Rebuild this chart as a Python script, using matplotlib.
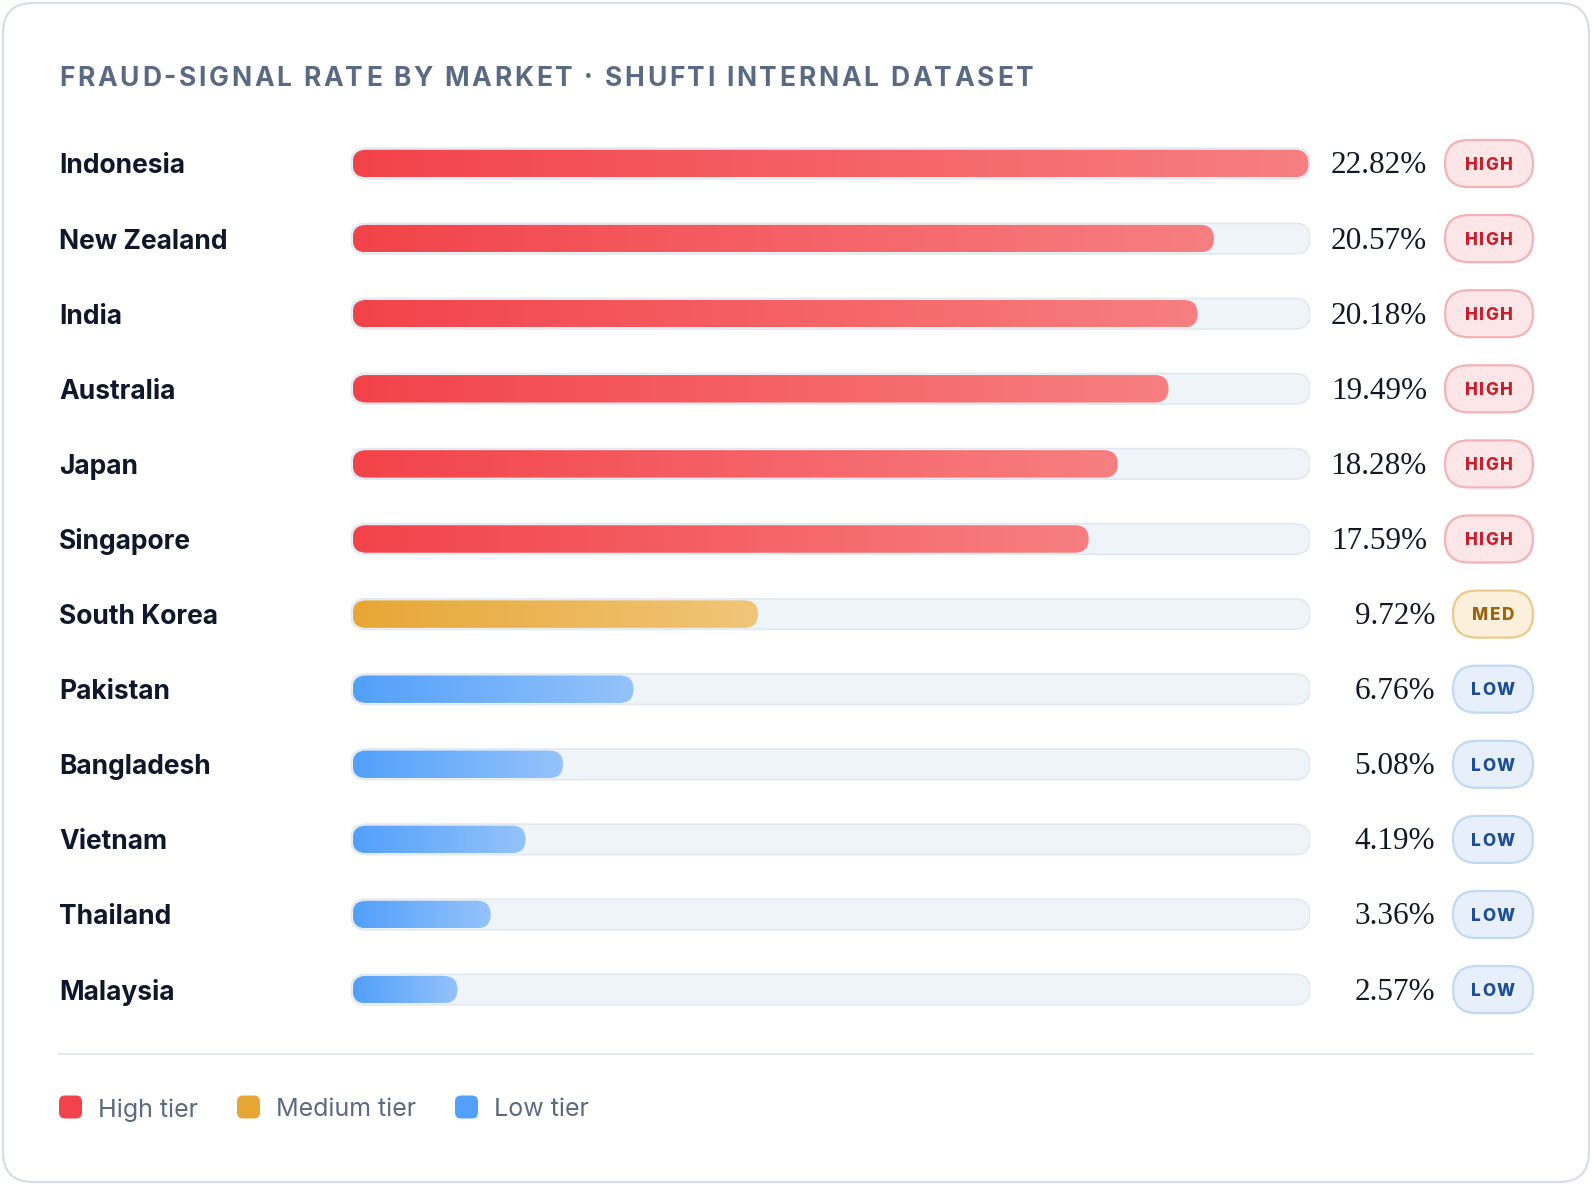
import matplotlib
matplotlib.use('Agg')
import matplotlib.pyplot as plt
import numpy as np
from matplotlib.patches import FancyBboxPatch
from matplotlib.colors import LinearSegmentedColormap

countries = ['Indonesia', 'New Zealand', 'India', 'Australia', 'Japan', 'Singapore',
             'South Korea', 'Pakistan', 'Bangladesh', 'Vietnam', 'Thailand', 'Malaysia']
rates = [22.82, 20.57, 20.18, 19.49, 18.28, 17.59, 9.72, 6.76, 5.08, 4.19, 3.36, 2.57]
tiers = ['HIGH'] * 6 + ['MED'] + ['LOW'] * 5
legend_labels = ['High tier', 'Medium tier', 'Low tier']
title = 'FRAUD-SIGNAL RATE BY MARKET \u00b7 SHUFTI INTERNAL DATASET'

# tier styling: gradient start, gradient end, pill fill, pill edge, pill text
tier_style = {
    'HIGH': ('#f2434a', '#f77f81', '#fde6e8', '#f3b3b6', '#c81f2b'),
    'MED': ('#e7a736', '#f0c679', '#fcf0dd', '#ecca8c', '#9a6413'),
    'LOW': ('#52a0fa', '#95c3fb', '#e7effb', '#c2d8f3', '#1d4d96'),
}
legend_tiers = ['HIGH', 'MED', 'LOW']

W, H = 1592, 1185
fig = plt.figure(figsize=(W / 100, H / 100), dpi=100)
fig.patch.set_facecolor('white')

bg = fig.add_axes([0, 0, 1, 1])
bg.set_xlim(0, W)
bg.set_ylim(H, 0)
bg.axis('off')

# card
bg.add_patch(FancyBboxPatch((3, 3), W - 6, H - 6, boxstyle='round,pad=0,rounding_size=30',
                            fc='white', ec='#d6deea', lw=1.6))

# bar axes
track_l, track_r = 351, 1310
row0, step = 163.5, 75.1
n = len(countries)
ax_top = row0 - step / 2
ax_h = n * step
ax = fig.add_axes([track_l / W, 1 - (ax_top + ax_h) / H, (track_r - track_l) / W, ax_h / H])
ax.axis('off')
xmax = max(rates)
ux = xmax / (track_r - track_l)
uy = n / ax_h
track_px = 30.5
th = track_px * uy
bh = (track_px - 3) * uy
inset = 1.5 * ux

for i, (v, t) in enumerate(zip(rates, tiers)):
    c0, c1, _, _, _ = tier_style[t]
    ax.add_patch(FancyBboxPatch((0, i - th / 2), xmax, th,
                                boxstyle=f'round,pad=0,rounding_size={track_px / 2 * ux}',
                                mutation_aspect=uy / ux, fc='#eff4f9', ec='#e1e8f1', lw=1.2, zorder=1))
    bar = FancyBboxPatch((inset, i - bh / 2), v - 2 * inset, bh,
                         boxstyle=f'round,pad=0,rounding_size={(track_px - 3) / 2 * ux}',
                         mutation_aspect=uy / ux, fc='none', lw=0, zorder=2)
    ax.add_patch(bar)
    cm = LinearSegmentedColormap.from_list(t, [c0, c1])
    im = ax.imshow(np.linspace(0, 1, 256).reshape(1, -1), cmap=cm, aspect='auto',
                   extent=[inset, v - inset, i + bh / 2, i - bh / 2],
                   interpolation='bilinear', zorder=3)
    im.set_clip_path(bar)
ax.set_xlim(0, xmax)
ax.set_ylim(n - 0.5, -0.5)

renderer = fig.canvas.get_renderer()


def advance(ch, **kw):
    t1 = bg.text(0, 0, 'H' + ch + 'H', **kw)
    t2 = bg.text(0, 0, 'HH', **kw)
    w = t1.get_window_extent(renderer).width - t2.get_window_extent(renderer).width
    t1.remove()
    t2.remove()
    return w


def spaced(x, y, s, spacing, ha='left', **kw):
    widths = [advance(ch, **kw) for ch in s]
    total = sum(widths) + spacing * (len(s) - 1)
    if ha == 'center':
        x -= total / 2
    for ch, w in zip(s, widths):
        if ch != ' ':
            bg.text(x, y, ch, ha='left', va='baseline', **kw)
        x += w + spacing


sans = ['Inter', 'DejaVu Sans']
serif = ['Liberation Serif', 'DejaVu Serif']

spaced(59, 75 + 10.5, title, 2.7, fontsize=19, fontweight='bold', color='#5a6a82', family=sans)


def row_y(i):
    disp = ax.transData.transform((0, i))
    return bg.transData.inverted().transform(disp)[1]


pill_r = 1533
for i, (name, v, t) in enumerate(zip(countries, rates, tiers)):
    y = row_y(i)
    _, _, pf, pe, pt = tier_style[t]
    bg.text(59, y + 10, name, ha='left', va='baseline', fontsize=19, fontweight='bold',
            color='#0f172a', family=sans)
    pw = 88 if t == 'HIGH' else 80
    pl = pill_r - pw
    bg.add_patch(FancyBboxPatch((pl, y - 23.5), pw, 47, boxstyle='round,pad=0,rounding_size=23.5',
                                fc=pf, ec=pe, lw=1.6))
    spaced(pl + pw / 2, y + 6.3, t, 1.7, ha='center', fontsize=12.3, fontweight='heavy',
           color=pt, family=sans)
    bg.text(pl - 18, y + 10, f'{v:.2f}%', ha='right', va='baseline', fontsize=22.5,
            color='#111827', family=serif)

# divider
bg.plot([59, 1533], [1054, 1054], color='#e3e8f0', lw=1.5)

# legend
lx = [59, 237, 455]
for x, lab, t in zip(lx, legend_labels, legend_tiers):
    bg.add_patch(FancyBboxPatch((x, 1107 - 11.5), 23, 23, boxstyle='round,pad=0,rounding_size=6',
                                fc=tier_style[t][0], ec='none'))
    bg.text(x + 39, 1107 + 9.5, lab, ha='left', va='baseline', fontsize=18,
            color='#5a6a82', family=sans)

fig.savefig('out.png', dpi=100, facecolor='white')
